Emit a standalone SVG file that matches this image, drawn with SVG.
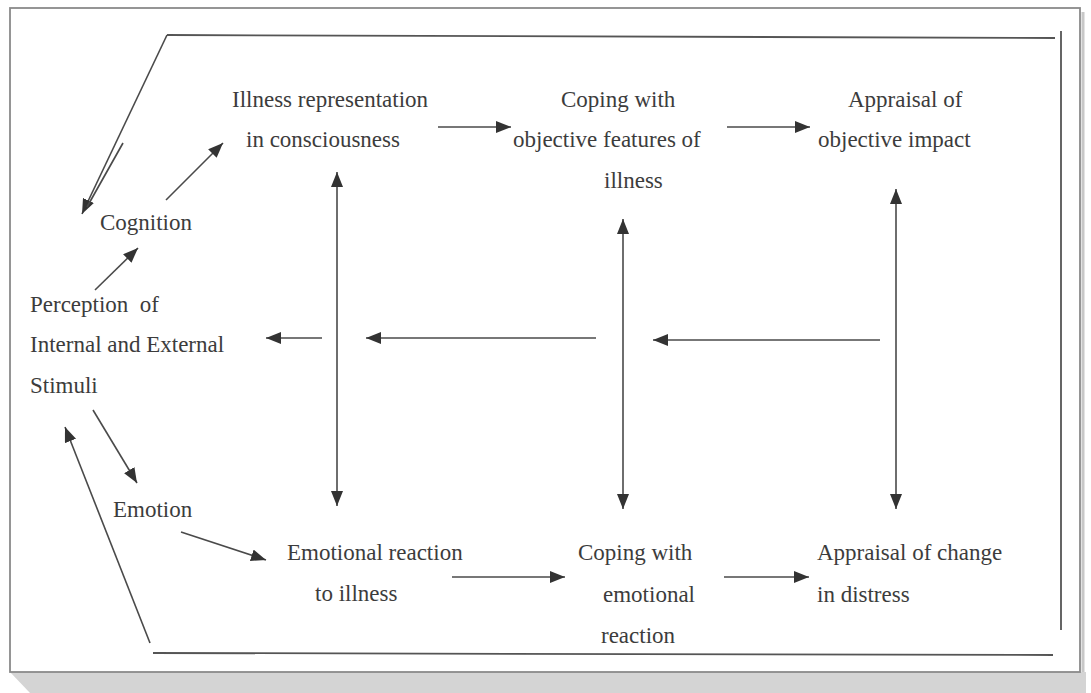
<svg xmlns="http://www.w3.org/2000/svg" width="1091" height="693" viewBox="0 0 1091 693">
<style>
.t{font-family:"Liberation Serif","Times New Roman",serif;font-size:23px;fill:#3c3c3c}
.c{stroke:#4a4a4a;stroke-width:1.6;fill:none}
.f{stroke:#555;stroke-width:1.8;fill:none}
</style>
<defs>
<marker id="ah" markerUnits="userSpaceOnUse" markerWidth="15" markerHeight="12" refX="15" refY="6" orient="auto-start-reverse">
<path d="M0,0 L15,6 L0,12 z" fill="#333"/>
</marker>
</defs>
<rect x="0" y="0" width="1091" height="693" fill="#ffffff"/>
<polygon points="10,672 1086,672 1086,693 30,693" fill="#d4d4d4"/>
<line x1="1083" y1="12" x2="1083" y2="672" stroke="#c8c8c8" stroke-width="3"/>
<rect x="10" y="8" width="1070" height="664" fill="#fff" stroke="#8a8a8a" stroke-width="1.8"/>
<g id="connectors">
<line class="f" x1="167" y1="35" x2="1055" y2="38"/>
<line class="f" x1="1061" y1="31" x2="1061" y2="630"/>
<line class="f" x1="153" y1="653" x2="1053" y2="655"/>
<line class="c" x1="167" y1="35" x2="82" y2="214" marker-end="url(#ah)"/>
<line class="c" x1="123" y1="143" x2="87" y2="207"/>
<line class="c" x1="150" y1="643" x2="65" y2="427" marker-end="url(#ah)"/>
<line class="c" x1="95" y1="290" x2="138" y2="248" marker-end="url(#ah)"/>
<line class="c" x1="166" y1="200" x2="223" y2="143" marker-end="url(#ah)"/>
<line class="c" x1="93" y1="410" x2="137" y2="483" marker-end="url(#ah)"/>
<line class="c" x1="181" y1="532" x2="266" y2="560" marker-end="url(#ah)"/>
<line class="c" x1="438" y1="127" x2="511" y2="127" marker-end="url(#ah)"/>
<line class="c" x1="727" y1="127" x2="810" y2="127" marker-end="url(#ah)"/>
<line class="c" x1="337" y1="172" x2="337" y2="506" marker-start="url(#ah)" marker-end="url(#ah)"/>
<line class="c" x1="623" y1="219" x2="623" y2="509" marker-start="url(#ah)" marker-end="url(#ah)"/>
<line class="c" x1="896" y1="189" x2="896" y2="509" marker-start="url(#ah)" marker-end="url(#ah)"/>
<line class="c" x1="322" y1="338" x2="266" y2="338" marker-end="url(#ah)"/>
<line class="c" x1="596" y1="338" x2="366" y2="338" marker-end="url(#ah)"/>
<line class="c" x1="880" y1="340" x2="653" y2="340" marker-end="url(#ah)"/>
<line class="c" x1="452" y1="577" x2="565" y2="577" marker-end="url(#ah)"/>
<line class="c" x1="724" y1="577" x2="809" y2="577" marker-end="url(#ah)"/>
</g>
<g id="illness-representation"><text class="t" x="232" y="107">Illness representation</text><text class="t" x="246" y="147">in consciousness</text></g>
<g id="coping-objective"><text class="t" x="561" y="107">Coping with</text><text class="t" x="513" y="147">objective features of</text><text class="t" x="604" y="188">illness</text></g>
<g id="appraisal-objective"><text class="t" x="848" y="107">Appraisal of</text><text class="t" x="818" y="147">objective impact</text></g>
<g id="cognition"><text class="t" x="100" y="230">Cognition</text></g>
<g id="perception"><text class="t" x="30" y="312" xml:space="preserve">Perception  of</text><text class="t" x="30" y="352">Internal and External</text><text class="t" x="30" y="393">Stimuli</text></g>
<g id="emotion"><text class="t" x="113" y="517">Emotion</text></g>
<g id="emotional-reaction"><text class="t" x="287" y="560">Emotional reaction</text><text class="t" x="315" y="601">to illness</text></g>
<g id="coping-emotional"><text class="t" x="578" y="560">Coping with</text><text class="t" x="603" y="602">emotional</text><text class="t" x="601" y="643">reaction</text></g>
<g id="appraisal-distress"><text class="t" x="817" y="560">Appraisal of change</text><text class="t" x="817" y="602">in distress</text></g>
</svg>
